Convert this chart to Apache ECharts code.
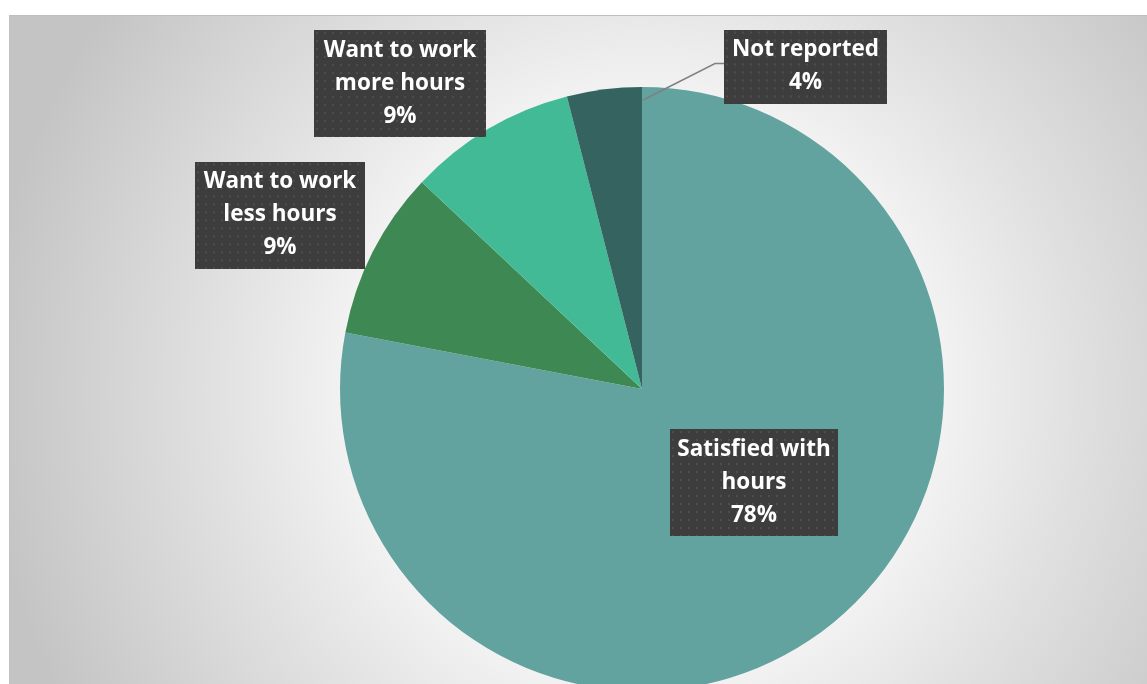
<!DOCTYPE html>
<html>
<head>
<meta charset="utf-8">
<script src="https://cdn.jsdelivr.net/npm/echarts@6/dist/echarts.min.js"></script>
<style>
  html, body { margin: 0; padding: 0; background: #ffffff; width: 1147px; height: 684px; overflow: hidden; }
  #frame {
    position: absolute; left: 9px; top: 15px; width: 1138px; height: 669px;
    box-sizing: border-box; border-top: 1px solid #BEBEBE; border-left: 1px solid #C2C2C2;
    background: radial-gradient(circle 660px at 633px 374px, #FFFFFF 0%, #F3F3F3 44%, #E0E0E0 66%, #C4C4C4 100%);
  }
  #chart { position: absolute; left: 0; top: 0; width: 1147px; height: 684px; }
</style>
</head>
<body>
<div id="frame"></div>
<div id="chart"></div>
<script>
// Working-hours preference, share of respondents
const categories = ['Satisfied with\nhours', 'Want to work\nless hours', 'Want to work\nmore hours', 'Not reported'];
const shares = [78, 9, 9, 4];
const sliceColors = ['#62A39F', '#3E8853', '#43BA96', '#356460'];

// Pie geometry
const PIE_CX = 642, PIE_CY = 389, PIE_R = 302;

// Callout box placement (centre of each box, box width, number of text lines)
const calloutBoxes = [
  { cx: 754, cy: 479.5, w: 168, lines: 3 },
  { cx: 280, cy: 212, w: 170, lines: 3 },
  { cx: 400, cy: 80.5, w: 172, lines: 3 },
  { cx: 805.5, cy: 63.5, w: 163, lines: 2 }
];
// Text sits a little below the box centre
const LINE_H = 33, PAD_TOP = 7, PAD_BOTTOM = 1, TEXT_DROP = 3;

// Dark dotted fill for the callout boxes
function dottedFill(w, h) {
  const c = document.createElement('canvas');
  c.width = w; c.height = h;
  const g = c.getContext('2d');
  g.fillStyle = '#3D3D3D';
  g.fillRect(0, 0, w, h);
  g.fillStyle = '#4D4D4D';
  for (let y = 2; y < h; y += 8) {
    for (let x = 2; x < w; x += 8) {
      g.fillRect(x, y, 2, 2);
    }
  }
  return c;
}

const data = categories.map((name, i) => {
  const b = calloutBoxes[i];
  const h = b.lines * LINE_H + PAD_TOP + PAD_BOTTOM;
  return {
    name: name,
    value: shares[i],
    itemStyle: { color: sliceColors[i] },
    label: {
      width: b.w,
      backgroundColor: { image: dottedFill(b.w, h) }
    }
  };
});

// Leader line from the top edge of the "Not reported" slice to its callout
const nr = calloutBoxes[3];
const leaderPoints = [
  [PIE_CX + 1, PIE_CY - PIE_R + 13],
  [nr.cx - nr.w / 2 - 9, nr.cy],
  [nr.cx - nr.w / 2, nr.cy]
];

const chart = echarts.init(document.getElementById('chart'), null, { renderer: 'canvas' });
chart.setOption({
  animation: false,
  series: [{
    type: 'pie',
    center: [PIE_CX, PIE_CY],
    radius: [0, PIE_R],
    startAngle: 90,
    clockwise: true,
    silent: true,
    emphasis: { disabled: true },
    itemStyle: { borderWidth: 0 },
    data: data,
    label: {
      show: true,
      position: 'outside',
      formatter: '{b}\n{d}%',
      color: '#FFFFFF',
      fontFamily: 'Open Sans',
      fontWeight: 'bold',
      fontSize: 22.5,
      lineHeight: LINE_H,
      align: 'center',
      padding: [PAD_TOP, 0, PAD_BOTTOM, 0],
      shadowColor: 'rgba(0,0,0,0.55)',
      shadowBlur: 8,
      shadowOffsetX: 4,
      shadowOffsetY: 4
    },
    labelLine: { show: false },
    labelLayout: function (params) {
      const b = calloutBoxes[params.dataIndex];
      return { x: b.cx, y: b.cy + TEXT_DROP, align: 'center', verticalAlign: 'middle' };
    }
  }],
  graphic: [{
    type: 'polyline',
    z: 100,
    silent: true,
    shape: { points: leaderPoints },
    style: { stroke: '#808080', lineWidth: 1.5, fill: null }
  }]
});
</script>
</body>
</html>
